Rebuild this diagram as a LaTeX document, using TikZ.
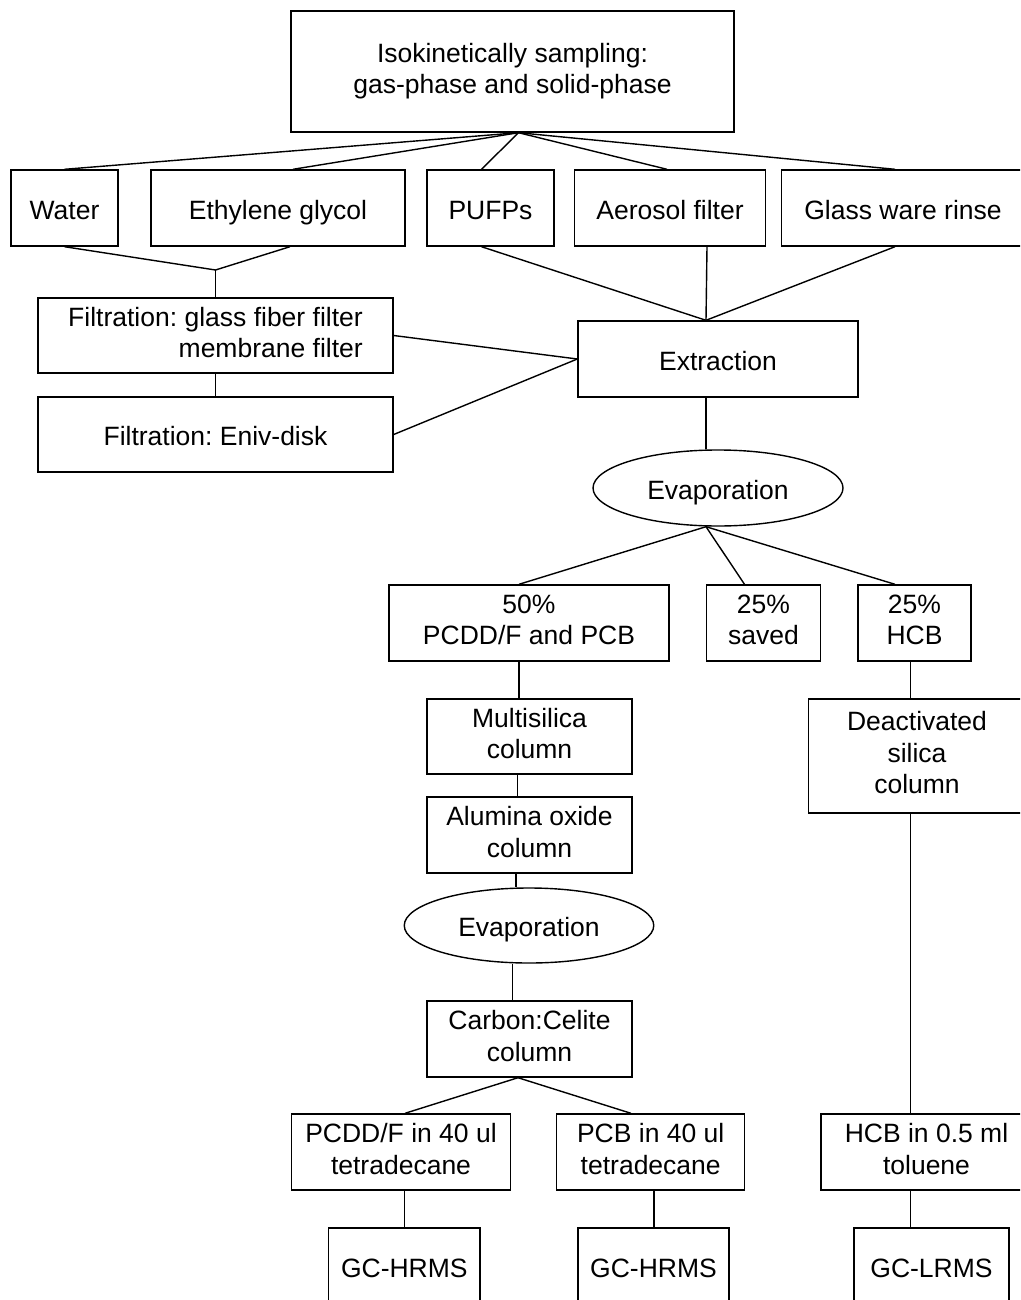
\documentclass[tikz,border=0pt]{standalone}
\usepackage{fontspec}
\setmainfont{Liberation Sans}
\frenchspacing
\newcommand\boxstrut{\rule[-6.5pt]{0pt}{35.5pt}}
\usetikzlibrary{shapes.geometric}
\begin{document}
\begin{tikzpicture}[x=1pt,y=-1pt,
  every node/.style={font=\fontsize{26.5}{31.5}\selectfont, inner sep=0pt,
    execute at begin node=\boxstrut, execute at end node=\boxstrut},
  bx/.style={draw, line width=1.4pt, rectangle, align=center},
  ell/.style={draw, line width=1.4pt, ellipse, align=center},
  ln/.style={line width=1.4pt}]
\clip (0,0) rectangle (1020,1300);
\fill[white] (0,0) rectangle (1020,1300);
% nodes
\node[bx, minimum width=443, minimum height=121] (top) at (512.5,71.5) {Isokinetically sampling:\\gas-phase and solid-phase};
\node[bx, minimum width=107, minimum height=76] (water) at (64.5,208) {Water};
\node[bx, minimum width=254, minimum height=76] (eg) at (278,208) {Ethylene glycol};
\node[bx, minimum width=127, minimum height=76] (pufp) at (490.5,208) {PUFPs};
\node[bx, minimum width=191.5, minimum height=76] (aero) at (670,208) {Aerosol filter};
\node[bx, minimum width=243, minimum height=76] (glass) at (903,208) {Glass ware rinse};
\node[bx, align=right, minimum width=355, minimum height=75] (filt1) at (215.5,335.5) {Filtration: glass fiber filter\\membrane filter};
\node[bx, minimum width=355, minimum height=75] (filt2) at (215.5,434.5) {Filtration: Eniv-disk};
\node[bx, minimum width=280, minimum height=76] (extr) at (718,359) {Extraction};
\node[ell, minimum width=250, minimum height=76] (evap1) at (718,488) {Evaporation};
\node[bx, minimum width=280, minimum height=76] (p50) at (529,623) {50\%\\PCDD/F and PCB};
\node[bx, minimum width=113.5, minimum height=76] (saved) at (763.5,623) {25\%\\saved};
\node[bx, minimum width=113, minimum height=76] (hcb) at (914.5,623) {25\%\\HCB};
\node[bx, minimum width=205, minimum height=75] (multi) at (529.5,736.5) {Multisilica\\column};
\node[bx, minimum width=205, minimum height=76] (alum) at (529.5,835) {Alumina oxide\\column};
\node[ell, minimum width=249.5, minimum height=75] (evap2) at (529,925.5) {Evaporation};
\node[bx, minimum width=216.5, minimum height=114] (deact) at (917,756) {Deactivated\\silica\\column};
\node[bx, minimum width=205, minimum height=76] (carbon) at (529.5,1039) {Carbon:Celite\\column};
\node[bx, minimum width=219, minimum height=76] (pcdd) at (401,1152) {PCDD/F in 40 ul\\tetradecane};
\node[bx, minimum width=188, minimum height=76] (pcb) at (650.7,1152) {PCB in 40 ul\\tetradecane};
\node[bx, minimum width=211, minimum height=76] (hcb2) at (926.5,1152) {HCB in 0.5 ml\\toluene};
\node[bx, minimum width=151.4, minimum height=76] (gc1) at (404.3,1266) {GC-HRMS};
\node[bx, minimum width=151, minimum height=76] (gc2) at (653.5,1266) {GC-HRMS};
\node[bx, minimum width=155, minimum height=76] (gc3) at (931.5,1266) {GC-LRMS};
% junctions
\coordinate (j1) at (215.5,270);
% connectors from top
\draw[ln] ([xshift=6]top.south) -- (water.north);
\draw[ln] ([xshift=6]top.south) -- ([xshift=15]eg.north);
\draw[ln] ([xshift=6]top.south) -- ([xshift=-9]pufp.north);
\draw[ln] ([xshift=6]top.south) -- ([xshift=-3]aero.north);
\draw[ln] ([xshift=6]top.south) -- ([xshift=-8]glass.north);
% water + glycol to filtration
\draw[ln] (water.south) -- (j1) -- ([xshift=12]eg.south);
\draw[ln] (j1) -- (filt1.north);
\draw[ln] (filt1.south) -- (filt2.north);
% to extraction
\draw[ln] ([xshift=-9]pufp.south) -- ([xshift=-12]extr.north);
\draw[ln] ([xshift=37]aero.south) -- ([xshift=-12]extr.north);
\draw[ln] ([xshift=-8]glass.south) -- ([xshift=-12]extr.north);
\draw[ln] (filt1.east) -- (extr.west);
\draw[ln] (filt2.east) -- (extr.west);
% extraction to evaporation
\draw[ln] ([xshift=-12]extr.south) -- ([xshift=-12]extr.south |- evap1.north);
% evaporation splits
\draw[ln] ([xshift=-12]evap1.south) -- ([xshift=-10]p50.north);
\draw[ln] ([xshift=-12]evap1.south) -- ([xshift=-19]saved.north);
\draw[ln] ([xshift=-12]evap1.south) -- ([xshift=-19.5]hcb.north);
% left chain
\draw[ln] ([xshift=-10]p50.south) -- ([xshift=-10]p50.south |- multi.north);
\draw[ln] ([xshift=-12]multi.south) -- ([xshift=-12]multi.south |- alum.north);
\draw[ln] ([xshift=-13.5]alum.south) -- ([xshift=-13.5]alum.south |- evap2.north);
\draw[ln] ([xshift=-16.5]evap2.south) -- ([xshift=-16.5]evap2.south |- carbon.north);
\draw[ln] ([xshift=-11.5]carbon.south) -- ([xshift=4]pcdd.north);
\draw[ln] ([xshift=-11.5]carbon.south) -- ([xshift=-19.7]pcb.north);
% right chain
\draw[ln] ([xshift=-4]hcb.south) -- ([xshift=-4]hcb.south |- deact.north);
\draw[ln] ([xshift=-6.4]deact.south) -- ([xshift=-6.4]deact.south |- hcb2.north);
% to GC
\draw[ln] ([xshift=3.5]pcdd.south) -- ([xshift=3.5]pcdd.south |- gc1.north);
\draw[ln] ([xshift=3.3]pcb.south) -- ([xshift=3.3]pcb.south |- gc2.north);
\draw[ln] ([xshift=-16]hcb2.south) -- ([xshift=-16]hcb2.south |- gc3.north);
\end{tikzpicture}
\end{document}
